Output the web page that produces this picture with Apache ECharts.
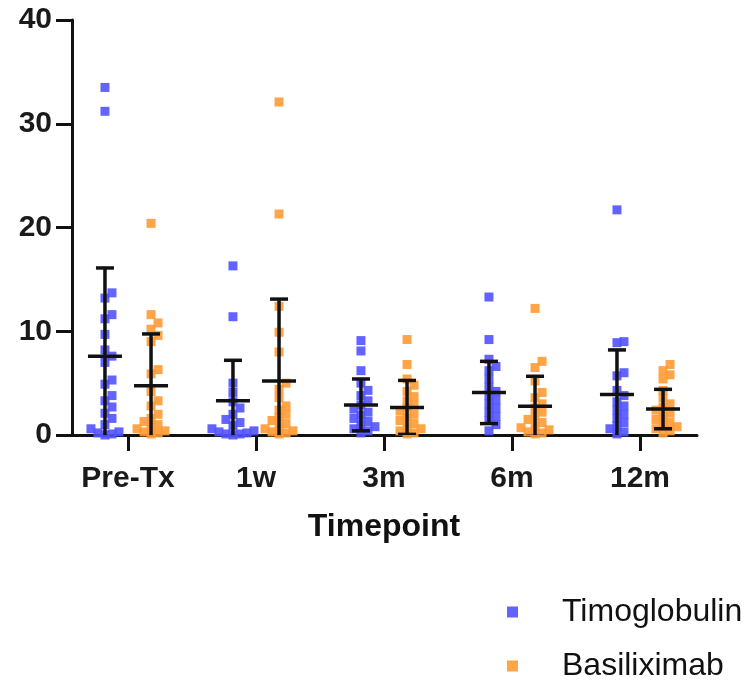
<!DOCTYPE html>
<html>
<head>
<meta charset="utf-8">
<script src="https://cdn.jsdelivr.net/npm/echarts@6/dist/echarts.min.js"></script>
<style>
  html, body { margin: 0; padding: 0; background: #fff; }
  #chart { width: 751px; height: 683px; }
</style>
</head>
<body>
<div id="chart"></div>
<script>
// Timepoints on the x axis
const categories = ['Pre-Tx', '1w', '3m', '6m', '12m'];
const yTicks = [0, 10, 20, 30, 40];
const seriesNames = ['Timoglobulin', 'Basiliximab'];

// Individual measurements per timepoint
const timoglobulin = [
  [33.5, 31.2, 13.7, 13.2, 11.6, 11.2, 9.7, 8.2, 7.6, 7.0, 5.3, 4.9, 3.8, 3.3, 2.7, 2.1, 1.6, 1.0, 0.6, 0.3, 0.2, 0.1, 0.0],
  [16.3, 11.4, 5.0, 4.1, 3.2, 2.6, 2.0, 1.5, 1.2, 0.9, 0.6, 0.4, 0.3, 0.2, 0.1, 0.1, 0.0],
  [9.1, 8.1, 6.2, 5.0, 4.3, 3.8, 3.3, 2.9, 2.5, 2.2, 1.9, 1.6, 1.3, 1.0, 0.8, 0.6, 0.4, 0.2],
  [13.3, 9.2, 7.3, 6.6, 6.2, 5.4, 4.6, 4.2, 3.8, 3.4, 3.0, 2.6, 2.2, 1.8, 1.4, 1.0, 0.4],
  [21.7, 9.0, 8.9, 6.0, 5.7, 4.3, 3.8, 3.2, 2.8, 2.4, 2.0, 1.6, 1.2, 0.9, 0.6, 0.3, 0.1]
];
const basiliximab = [
  [20.4, 11.6, 10.8, 10.2, 9.6, 9.0, 6.3, 5.9, 4.2, 3.3, 2.8, 2.0, 1.6, 1.3, 1.0, 0.8, 0.6, 0.4, 0.3, 0.2, 0.1],
  [32.1, 21.3, 12.4, 9.9, 8.0, 5.0, 4.4, 3.6, 2.8, 2.4, 2.0, 1.7, 1.4, 1.1, 0.8, 0.6, 0.4, 0.3, 0.2, 0.1],
  [9.2, 6.8, 5.4, 4.8, 4.2, 3.7, 3.3, 2.9, 2.6, 2.3, 2.0, 1.7, 1.4, 1.1, 0.8, 0.6, 0.4, 0.2, 0.1],
  [12.2, 7.1, 6.5, 5.2, 4.1, 3.6, 3.0, 2.6, 2.2, 1.8, 1.5, 1.2, 0.9, 0.7, 0.5, 0.3, 0.2, 0.1],
  [6.8, 6.2, 5.8, 5.4, 4.3, 3.6, 3.0, 2.7, 2.4, 2.1, 1.8, 1.5, 1.2, 1.0, 0.8, 0.6, 0.4, 0.2]
];

// Mean and standard deviation per timepoint
const timMean = [7.6, 3.3, 2.9, 4.1, 3.9];
const timSD   = [8.5, 3.9, 2.5, 3.0, 4.3];
const basMean = [4.74, 5.2, 2.66, 2.76, 2.5];
const basSD   = [5.0, 7.9, 2.6, 2.9, 1.9];

const BLUE = '#5252ff';
const ORANGE = '#ff9a33';
const FONT = '"Liberation Sans", Arial, Helvetica, sans-serif';

// plot geometry used to spread overlapping dots sideways
const PX_PER_X = 128;        // one category band
const PX_PER_Y = 415 / 40;   // vertical pixels per unit
const GROUP_SHIFT = 0.18;    // side offset of each treatment inside a band
const DOT = 9;
const STEP = 7;

// simple beeswarm: place each dot at the first free horizontal slot
function swarm(values, center) {
  const placed = [];
  const out = [];
  const sorted = values.slice().sort((a, b) => a - b);
  sorted.forEach(v => {
    const py = v * PX_PER_Y;
    let k = 0, dx = 0;
    while (true) {
      dx = (k === 0) ? 0 : (k % 2 === 1 ? 1 : -1) * Math.ceil(k / 2) * STEP;
      const hit = placed.some(p => Math.abs(p[0] - dx) < STEP && Math.abs(p[1] - py) < STEP);
      if (!hit) break;
      k++;
    }
    placed.push([dx, py]);
    out.push([center + dx / PX_PER_X, v]);
  });
  return out;
}

function dots(groups, shift) {
  const res = [];
  groups.forEach((vals, i) => { res.push(...swarm(vals, i + shift)); });
  return res;
}

function barData(means, sds, shift) {
  return means.map((m, i) => [i + shift, m, sds[i]]);
}

function renderErrorBar(params, api) {
  const x = api.value(0), m = api.value(1), sd = api.value(2);
  const c = api.coord([x, m]);
  const top = api.coord([x, m + sd]);
  const bot = api.coord([x, m - sd]);
  const style = { stroke: '#111', lineWidth: 3.5 };
  const meanHalf = 17, capHalf = 9;
  return {
    type: 'group',
    children: [
      { type: 'line', shape: { x1: c[0], y1: top[1], x2: c[0], y2: bot[1] }, style },
      { type: 'line', shape: { x1: c[0] - capHalf, y1: top[1], x2: c[0] + capHalf, y2: top[1] }, style },
      { type: 'line', shape: { x1: c[0] - capHalf, y1: bot[1], x2: c[0] + capHalf, y2: bot[1] }, style },
      { type: 'line', shape: { x1: c[0] - meanHalf, y1: c[1], x2: c[0] + meanHalf, y2: c[1] }, style }
    ]
  };
}

function legendEntry(name, top) {
  return {
    left: 507, top: top, padding: 0,
    itemWidth: 11, itemHeight: 11,
    icon: 'rect',
    data: [name],
    textStyle: { fontSize: 32, lineHeight: 34, color: '#111', fontFamily: FONT, padding: [0, 0, 0, 39] }
  };
}

const chart = echarts.init(document.getElementById('chart'), null, { renderer: 'canvas' });

const axisLineStyle = { color: '#111', width: 3 };

chart.setOption({
  animation: false,
  backgroundColor: '#fff',
  textStyle: { fontFamily: FONT },
  grid: [
    { left: 72, top: 20, right: 54, bottom: 248 },
    { left: 64, top: 20, width: 640, bottom: 248 }
  ],
  xAxis: [
    {
      gridIndex: 0, type: 'value', min: 0, max: 1,
      axisLine: { show: true, lineStyle: axisLineStyle },
      axisTick: { show: false }, axisLabel: { show: false }, splitLine: { show: false }
    },
    {
      gridIndex: 1, type: 'category', data: categories, boundaryGap: true,
      axisLine: { show: false },
      axisTick: { show: true, alignWithLabel: true, length: 16, lineStyle: { color: '#111', width: 3 } },
      axisLabel: { margin: 29, color: '#1a1a1a', fontSize: 30, fontWeight: 'bold', fontFamily: FONT },
      name: 'Timepoint', nameLocation: 'middle', nameGap: 76,
      nameTextStyle: { color: '#111', fontSize: 32, fontWeight: 'bold', fontFamily: FONT },
      splitLine: { show: false }
    },
    {
      gridIndex: 1, type: 'value', min: -0.5, max: 4.5, show: false
    }
  ],
  yAxis: [
    {
      gridIndex: 0, type: 'value', min: yTicks[0], max: yTicks[yTicks.length - 1], interval: 10,
      axisLine: { show: true, lineStyle: axisLineStyle },
      axisTick: { show: true, length: 16, lineStyle: { color: '#111', width: 3 } },
      axisLabel: { margin: 20, color: '#1a1a1a', fontSize: 30, fontWeight: 'bold', fontFamily: FONT },
      splitLine: { show: false }
    },
    {
      gridIndex: 1, type: 'value', min: yTicks[0], max: yTicks[yTicks.length - 1], show: false
    }
  ],
  legend: [
    legendEntry(seriesNames[0], 595),
    legendEntry(seriesNames[1], 649)
  ],
  series: [
    {
      name: seriesNames[0], type: 'scatter', xAxisIndex: 2, yAxisIndex: 1,
      symbol: 'rect', symbolSize: DOT,
      itemStyle: { color: BLUE, opacity: 0.9 },
      data: dots(timoglobulin, -GROUP_SHIFT), z: 2
    },
    {
      name: seriesNames[1], type: 'scatter', xAxisIndex: 2, yAxisIndex: 1,
      symbol: 'rect', symbolSize: DOT,
      itemStyle: { color: ORANGE, opacity: 0.9 },
      data: dots(basiliximab, GROUP_SHIFT), z: 2
    },
    {
      type: 'custom', xAxisIndex: 2, yAxisIndex: 1, clip: true,
      renderItem: renderErrorBar, data: barData(timMean, timSD, -GROUP_SHIFT), z: 5
    },
    {
      type: 'custom', xAxisIndex: 2, yAxisIndex: 1, clip: true,
      renderItem: renderErrorBar, data: barData(basMean, basSD, GROUP_SHIFT), z: 5
    }
  ]
});
</script>
</body>
</html>
